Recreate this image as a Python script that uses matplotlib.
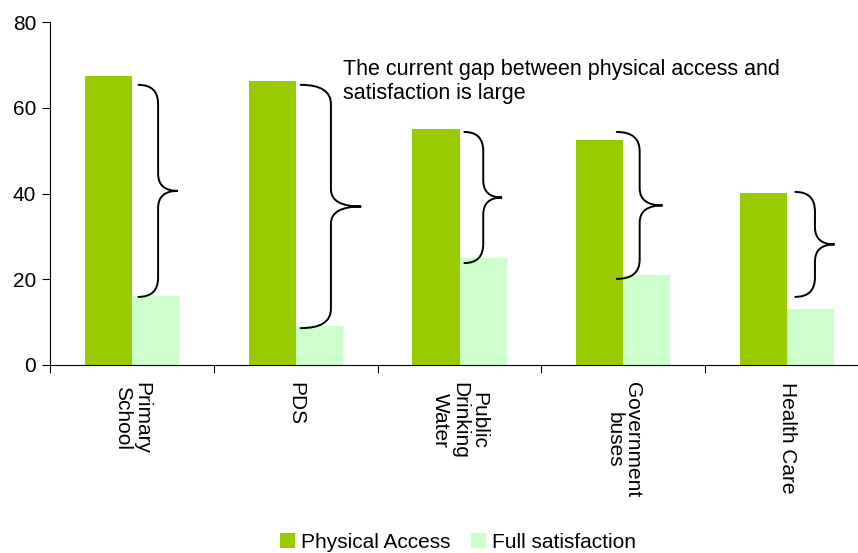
import numpy as np
import matplotlib.pyplot as plt
from matplotlib.path import Path
from matplotlib.patches import PathPatch

plt.rcParams['font.family'] = ['Liberation Sans', 'DejaVu Sans']

categories = ["Primary\nSchool", "PDS", "Public\nDrinking\nWater", "Government\nbuses", "Health Care"]
physical_access = [67.5, 66.3, 55.0, 52.5, 40.2]
full_satisfaction = [16.0, 9.0, 25.0, 21.0, 13.0]

# gap braces: vertical extent (data units) and horizontal offset from category centre
brace_lo = [15.9, 8.6, 23.8, 20.1, 15.9]
brace_hi = [65.4, 65.4, 54.4, 54.4, 40.4]
brace_x0 = [0.04, 0.03, 0.03, -0.04, 0.05]
brace_x1 = [0.28, 0.40, 0.26, 0.24, 0.29]

green = "#99CC00"
light = "#CCFFCC"


def brace(ax, xc, x0, x1, lo, hi):
    xs = x0 + (x1 - x0) * 0.5
    mid = (lo + hi) / 2
    r = 4.5
    rm = 4.0
    verts = [
        (xc + x0, hi), (xc + xs, hi), (xc + xs, hi - r),
        (xc + xs, mid + rm),
        (xc + xs, mid), (xc + x1, mid),
        (xc + xs, mid), (xc + xs, mid - rm),
        (xc + xs, lo + r),
        (xc + xs, lo), (xc + x0, lo),
    ]
    codes = [Path.MOVETO, Path.CURVE3, Path.CURVE3,
             Path.LINETO,
             Path.CURVE3, Path.CURVE3,
             Path.CURVE3, Path.CURVE3,
             Path.LINETO,
             Path.CURVE3, Path.CURVE3]
    ax.add_patch(PathPatch(Path(verts, codes), fill=False, lw=1.4,
                           edgecolor="black", capstyle="round"))


fig = plt.figure(figsize=(8.58, 5.53), dpi=100)
ax = fig.add_axes([50 / 858, (553 - 365) / 553, 819 / 858, 342.7 / 553])

x = np.arange(len(categories))
w = 0.287
ax.bar(x - w / 2, physical_access, w, color=green, label="Physical Access")
ax.bar(x + w / 2, full_satisfaction, w, color=light, label="Full satisfaction")

for i in range(len(categories)):
    brace(ax, x[i], brace_x0[i], brace_x1[i], brace_lo[i], brace_hi[i])

ax.text(1.287, 71.4, "The current gap between physical access and\nsatisfaction is large",
        fontsize=15.5, va="top", ha="left", linespacing=1.2)

ax.set_ylim(0, 80)
ax.set_yticks([0, 20, 40, 60, 80])
ax.set_xlim(-0.5, 4.5)
ax.set_xticks(np.arange(-0.5, 4.5, 1.0))
ax.set_xticklabels([])
ax.tick_params(axis="y", direction="out", length=6, labelsize=15, pad=4)
ax.tick_params(axis="x", direction="out", length=6)
for s in ["top", "right"]:
    ax.spines[s].set_visible(False)

for i, lab in enumerate(categories):
    ax.text(x[i], -4.0, lab, rotation=-90, ha="center", va="top",
            multialignment="center", fontsize=15, linespacing=1.0)

fig.legend(loc="center", bbox_to_anchor=(458 / 858, 1 - 542 / 553), ncol=2,
           frameon=False, fontsize=15, handlelength=0.7, handleheight=0.7,
           handletextpad=0.3, columnspacing=1.0)

fig.savefig("out.png")
